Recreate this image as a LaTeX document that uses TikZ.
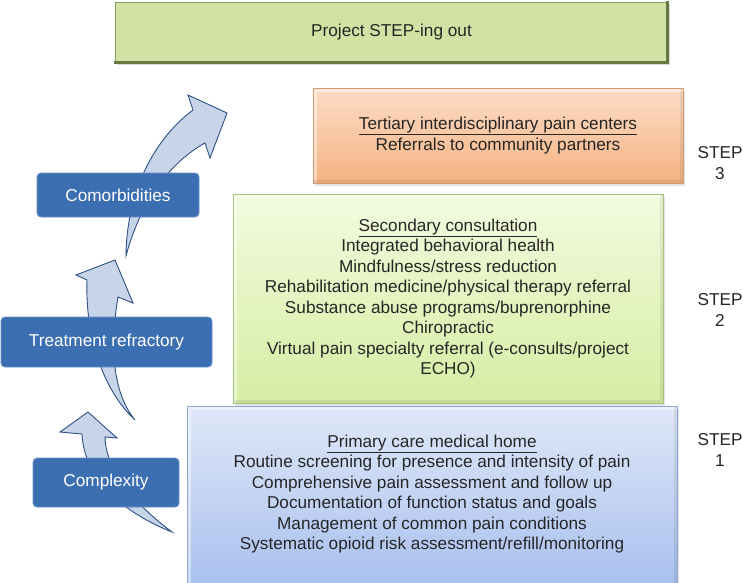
\documentclass[tikz,border=0pt]{standalone}
\usepackage{fontspec}
\setmainfont{Liberation Sans}
\usetikzlibrary{shadows}
\definecolor{txt}{HTML}{262626}
\definecolor{afill}{HTML}{C8D4E8}
\definecolor{aedge}{HTML}{2E5185}
\definecolor{lblue}{HTML}{3C6EB2}
\definecolor{lblueedge}{HTML}{6A92C8}
\definecolor{topfill}{HTML}{D2E1A4}
\definecolor{topedge}{HTML}{8C9E62}
\definecolor{topdark}{HTML}{667A40}
\definecolor{ortop}{HTML}{FCDDC6}
\definecolor{orbot}{HTML}{F5B282}
\definecolor{oredge}{HTML}{D49A70}
\definecolor{grtop}{HTML}{F3FADF}
\definecolor{grbot}{HTML}{D5EDA3}
\definecolor{gredge}{HTML}{A9C27A}
\definecolor{bltop}{HTML}{DFE8F8}
\definecolor{blbot}{HTML}{A7BFEE}
\definecolor{bledge}{HTML}{90A8D6}
\begin{document}
\begin{tikzpicture}[x=1pt,y=-1pt,
  txtfont/.style={font=\fontsize{17.2}{20.5}\selectfont},
  bigbox/.style={rectangle, align=center, text=txt, txtfont, inner sep=0pt,
    drop shadow={opacity=0.22, shadow xshift=1.5pt, shadow yshift=-2.5pt},
    path picture={
      \draw[white, opacity=0.45, line width=7pt]
        (path picture bounding box.south west) -- (path picture bounding box.north west)
        -- (path picture bounding box.north east);
      \draw[black, opacity=0.07, line width=7pt]
        (path picture bounding box.north east) -- (path picture bounding box.south east)
        -- (path picture bounding box.south west);}},
  labelbox/.style={rectangle, rounded corners=4pt, fill=lblue, draw=lblueedge,
    line width=0.8pt, text=white, txtfont, inner sep=0pt},
  blockarrow/.style={fill=afill, draw=aedge, line width=0.9pt, line join=miter},
  steplabel/.style={align=center, text=txt, txtfont, inner sep=0pt}]
\clip (0,0) rectangle (743,582);
\fill[white] (0,0) rectangle (743,582);

% big step boxes
\node[rectangle, fill=topfill, draw=topedge, line width=1pt, text=txt, txtfont,
  minimum width=553pt, minimum height=61pt, inner sep=0pt,
  drop shadow={opacity=0.3, shadow xshift=1.5pt, shadow yshift=-2pt}]
  (title) at (391.5,32.5) {Project STEP-ing out};
\draw[topdark, line width=2.2pt] ([xshift=-1pt,yshift=1pt]title.south west)
  -- ([xshift=-1pt,yshift=1pt]title.south east) -- ([xshift=-1pt,yshift=1pt]title.north east);

\node[bigbox, top color=ortop, bottom color=orbot, draw=oredge, line width=0.8pt,
  minimum width=370pt, minimum height=95pt]
  (tertiary) at (498,135.5)
  {\underline{Tertiary interdisciplinary pain centers}\\Referrals to community partners};

\node[bigbox, top color=grtop, bottom color=grbot, draw=gredge, line width=0.8pt,
  minimum width=430pt, minimum height=209pt]
  (secondary) at (448,298.5)
  {\underline{Secondary consultation}\\Integrated behavioral health\\
   Mindfulness/stress reduction\\Rehabilitation medicine/physical therapy referral\\
   Substance abuse programs/buprenorphine\\Chiropractic\\
   Virtual pain specialty referral (e-consults/project\\ECHO)};

\node[bigbox, top color=bltop, bottom color=blbot, draw=bledge, line width=0.8pt,
  minimum width=490pt, minimum height=184pt, text depth=0pt]
  (primary) at (432,498) {};
\node[align=center, text=txt, txtfont, inner sep=0pt] (primarytext) at (432,494)
  {\underline{Primary care medical home}\\Routine screening for presence and intensity of pain\\
   Comprehensive pain assessment and follow up\\Documentation of function status and goals\\
   Management of common pain conditions\\Systematic opioid risk assessment/refill/monitoring};

% step labels
\node[steplabel] (step3) at (720,163) {STEP\\3};
\node[steplabel] (step2) at (720,310) {STEP\\2};
\node[steplabel] (step1) at (720,450) {STEP\\1};

% block arrows
\coordinate (t1) at (172,532);
\coordinate (t2) at (135,420);
\coordinate (t3) at (126,256);
\draw[blockarrow] (t1) .. controls (122,512) and (84,478) .. (82,434)
  -- (60,432) -- (88,412) -- (117,438) -- (105,437)
  .. controls (106,472) and (136,505) .. (t1) -- cycle;
\draw[blockarrow] (t2) .. controls (105,392) and (85,340) .. (87,280)
  -- (76,275) -- (115,260) -- (133,303) -- (118,297)
  .. controls (110,345) and (112,392) .. (t2) -- cycle;
\draw[blockarrow] (t3) .. controls (126,215) and (140,150) .. (193,110)
  -- (188,95) -- (227,113) -- (210,158) -- (205,143)
  .. controls (165,165) and (138,210) .. (t3) -- cycle;

% label boxes
\node[labelbox, minimum width=162pt, minimum height=44pt] (comorb) at (118,195) {Comorbidities};
\node[labelbox, minimum width=211pt, minimum height=50pt] (refract) at (106.5,342) {Treatment refractory};
\node[labelbox, minimum width=146pt, minimum height=49pt] (complex) at (106,482.5) {Complexity};
\end{tikzpicture}
\end{document}
